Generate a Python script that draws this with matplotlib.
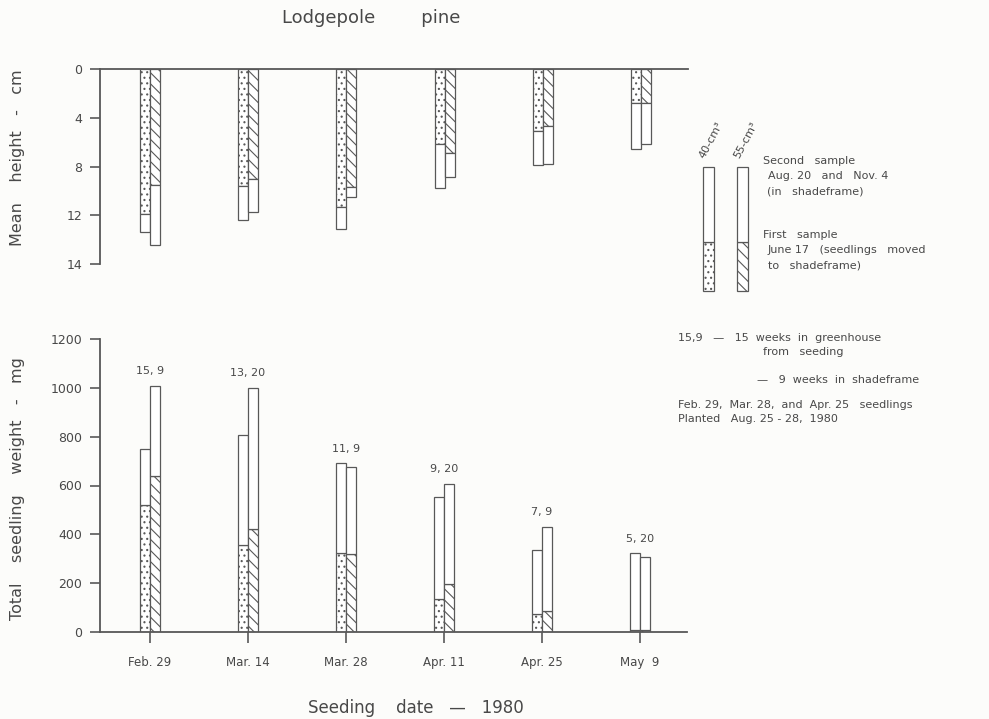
import numpy as np
import matplotlib
matplotlib.use("Agg")
import matplotlib.pyplot as plt

# ---- data -------------------------------------------------------------
seeding_dates = ["Feb. 29", "Mar. 14", "Mar. 28", "Apr. 11", "Apr. 25", "May  9"]
weeks_labels = ["15, 9", "13, 20", "11, 9", "9, 20", "7, 9", "5, 20"]

# mean height (cm): first sample (June 17) and second sample (total)
height_40_first = [11.9, 9.6, 11.3, 6.15, 5.1, 2.8]
height_40_total = [13.35, 12.4, 13.1, 9.8, 7.9, 6.6]
height_55_first = [9.55, 9.05, 9.7, 6.9, 4.7, 2.75]
height_55_total = [14.4, 11.7, 10.5, 8.9, 7.8, 6.15]

# total seedling weight (mg)
weight_40_first = [520, 355, 323, 135, 75, 10]
weight_40_total = [750, 807, 691, 551, 337, 323]
weight_55_first = [640, 421, 319, 198, 84, 10]
weight_55_total = [1008, 1000, 675, 607, 432, 307]

height_ticks = [0, 4, 8, 12, 16]
height_tick_labels = ["0", "4", "8", "12", "14"]
weight_ticks = [0, 200, 400, 600, 800, 1000, 1200]

# ---- style -------------------------------------------------------------
INK = "#585858"
TXT = "#484848"
BG = "#fcfcfa"
DOTS = "..."
SLASH = "\\\\\\"
plt.rcParams["font.family"] = ["DejaVu Sans"]
plt.rcParams["hatch.linewidth"] = 0.8

W, H = 989, 719
fig = plt.figure(figsize=(W / 100, H / 100), dpi=100, facecolor=BG)


def px_axes(x0, y0, x1, y1):
    return fig.add_axes([x0 / W, 1 - y1 / H, (x1 - x0) / W, (y1 - y0) / H])


def ftext(x, y, s, **kw):
    kw.setdefault("color", TXT)
    kw.setdefault("va", "center")
    return fig.text(x / W, 1 - y / H, s, **kw)


x = np.arange(len(seeding_dates))
bw = 0.102
xlim = (-0.51, 5.48)


def draw_pairs(ax, f40, t40, f55, t55):
    f40, t40, f55, t55 = map(np.asarray, (f40, t40, f55, t55))
    common = dict(width=bw, facecolor="white", edgecolor=INK, linewidth=0.9)
    ax.bar(x - bw / 2, f40, bottom=0, hatch=DOTS, **common)
    ax.bar(x - bw / 2, t40 - f40, bottom=f40, **common)
    ax.bar(x + bw / 2, f55, bottom=0, hatch=SLASH, **common)
    ax.bar(x + bw / 2, t55 - f55, bottom=f55, **common)


# ---- upper panel: mean height (drawn downward) -------------------------
ax1 = px_axes(100, 69, 688, 264)
ax1.set_facecolor("none")
draw_pairs(ax1, height_40_first, height_40_total, height_55_first, height_55_total)
ax1.set_xlim(*xlim)
ax1.set_ylim(16, 0)
for side in ("bottom", "right"):
    ax1.spines[side].set_visible(False)
for side in ("top", "left"):
    ax1.spines[side].set_color(INK)
    ax1.spines[side].set_linewidth(1.3)
ax1.set_xticks([])
ax1.set_yticks(height_ticks, labels=height_tick_labels)
ax1.tick_params(axis="y", direction="out", length=7.2, width=1.2, pad=5.5,
                labelsize=9, colors=INK, labelcolor=TXT)

# ---- lower panel: total seedling weight --------------------------------
ax2 = px_axes(100, 339, 687, 632)
ax2.set_facecolor("none")
draw_pairs(ax2, weight_40_first, weight_40_total, weight_55_first, weight_55_total)
ax2.set_xlim(*xlim)
ax2.set_ylim(0, 1200)
for side in ("top", "right"):
    ax2.spines[side].set_visible(False)
for side in ("bottom", "left"):
    ax2.spines[side].set_color(INK)
    ax2.spines[side].set_linewidth(1.3)
ax2.set_yticks(weight_ticks)
ax2.tick_params(axis="y", direction="out", length=7.2, width=1.2, pad=5.5,
                labelsize=9, colors=INK, labelcolor=TXT)
ax2.set_xticks(x, labels=seeding_dates)
ax2.tick_params(axis="x", direction="out", length=8, width=1.2, pad=9,
                labelsize=8.5, colors=INK, labelcolor=TXT)

for xi, lab, a, b in zip(x, weeks_labels, weight_40_total, weight_55_total):
    ax2.annotate(lab, (xi, max(a, b)), xytext=(0, 10.5), textcoords="offset points",
                 ha="center", va="center", fontsize=8, color=TXT)

# ---- axis titles -------------------------------------------------------
ftext(371, 18, "Lodgepole        pine", ha="center", fontsize=13)
ftext(416, 708, "Seeding    date   \u2014   1980", ha="center", fontsize=12)
ftext(18, 158, "Mean    height   -   cm", ha="center", rotation=90, fontsize=11.5)
ftext(18, 489, "Total    seedling    weight   -   mg", ha="center", rotation=90,
      fontsize=11.5)

# ---- key --------------------------------------------------------------
axk = px_axes(700, 165, 752, 293)
axk.set_xlim(0, 52)
axk.set_ylim(0, 128)
axk.axis("off")
key_x = [8.5, 42.5]
key_first = [49, 49]
key_second = [75, 75]
for kx, kf, ks, hatch in zip(key_x, key_first, key_second, [DOTS, SLASH]):
    axk.bar(kx, kf, bottom=2, width=11, facecolor="white", edgecolor=INK,
            linewidth=0.9, hatch=hatch)
    axk.bar(kx, ks, bottom=2 + kf, width=11, facecolor="white", edgecolor=INK,
            linewidth=0.9)

ftext(706, 160, "40-cm\u00b3", rotation=62, rotation_mode="anchor",
      ha="left", va="bottom", fontsize=8)
ftext(741, 160, "55-cm\u00b3", rotation=62, rotation_mode="anchor",
      ha="left", va="bottom", fontsize=8)

kw = dict(ha="left", fontsize=8)
ftext(763, 161, "Second   sample", **kw)
ftext(768, 176, "Aug. 20   and   Nov. 4", **kw)
ftext(767, 191, "(in   shadeframe)", **kw)
ftext(763, 235, "First   sample", **kw)
ftext(768, 250, "June 17   (seedlings   moved", **kw)
ftext(768, 265, "to   shadeframe)", **kw)

ftext(678, 338, "15,9   \u2014   15  weeks  in  greenhouse", **kw)
ftext(763, 352, "from   seeding", **kw)
ftext(757, 380, "\u2014   9  weeks  in  shadeframe", **kw)
ftext(678, 405, "Feb. 29,  Mar. 28,  and  Apr. 25   seedlings", **kw)
ftext(678, 419, "Planted   Aug. 25 - 28,  1980", **kw)

fig.savefig("out.png", dpi=100, facecolor=BG)
